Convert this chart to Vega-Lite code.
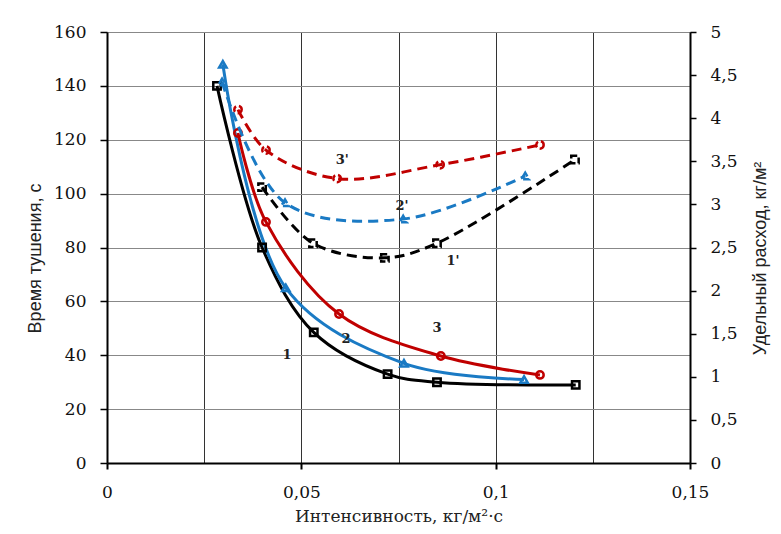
{
  "$schema": "https://vega.github.io/schema/vega-lite/v6.json",
  "autosize": "none",
  "width": 583,
  "height": 431,
  "padding": {"left": 107, "top": 32, "right": 91, "bottom": 71},
  "background": "white",
  "config": {
    "view": {"stroke": null},
    "axis": {"labelFont": "DejaVu Serif", "labelFontSize": 17, "labelColor": "#111", "domainColor": "#000", "tickColor": "#000", "titleColor": "#222", "titleFontWeight": "normal"}
  },
  "datasets": {
    "solid": [
      {"series": "1", "x": 0.0283, "y": 140},
      {"series": "1", "x": 0.0399, "y": 80},
      {"series": "1", "x": 0.0532, "y": 48.5},
      {"series": "1", "x": 0.0722, "y": 33},
      {"series": "1", "x": 0.0849, "y": 30},
      {"series": "1", "x": 0.1206, "y": 29},
      {"series": "2", "x": 0.0298, "y": 148},
      {"series": "2", "x": 0.0460, "y": 65},
      {"series": "2", "x": 0.0764, "y": 37},
      {"series": "2", "x": 0.1073, "y": 31},
      {"series": "3", "x": 0.0337, "y": 122.5},
      {"series": "3", "x": 0.0409, "y": 89.5},
      {"series": "3", "x": 0.0597, "y": 55.3},
      {"series": "3", "x": 0.0859, "y": 39.7},
      {"series": "3", "x": 0.1114, "y": 32.7}
    ],
    "dashed": [
      {"series": "1", "x": 0.0399, "y": 3.2},
      {"series": "1", "x": 0.0530, "y": 2.55},
      {"series": "1", "x": 0.0715, "y": 2.38},
      {"series": "1", "x": 0.0849, "y": 2.55},
      {"series": "1", "x": 0.1204, "y": 3.52},
      {"series": "2", "x": 0.0296, "y": 4.42},
      {"series": "2", "x": 0.0458, "y": 3.02},
      {"series": "2", "x": 0.0762, "y": 2.83},
      {"series": "2", "x": 0.1076, "y": 3.33},
      {"series": "3", "x": 0.0337, "y": 4.1},
      {"series": "3", "x": 0.0409, "y": 3.63},
      {"series": "3", "x": 0.0592, "y": 3.3},
      {"series": "3", "x": 0.0857, "y": 3.46},
      {"series": "3", "x": 0.1114, "y": 3.69}
    ],
    "labels": [
      {"text": "1", "x": 0.0463, "y": 40},
      {"text": "2", "x": 0.0615, "y": 46},
      {"text": "3", "x": 0.0849, "y": 50},
      {"text": "1'", "x": 0.0890, "y": 75},
      {"text": "2'", "x": 0.0759, "y": 95.5},
      {"text": "3'", "x": 0.0605, "y": 112.5}
    ]
  },
  "resolve": {"scale": {"y": "independent"}},
  "layer": [
    {
      "layer": [
        {
          "data": {"name": "solid"},
          "mark": {"type": "line", "interpolate": "catmull-rom", "strokeWidth": 3},
          "encoding": {
            "x": {"field": "x", "type": "quantitative", "scale": {"domain": [0, 0.15], "nice": false},
              "axis": {
                "values": [0, 0.025, 0.05, 0.075, 0.1, 0.125, 0.15],
                "grid": true, "gridColor": "#333", "gridWidth": 1,
                "domainWidth": 2, "tickSize": 6, "tickWidth": 2,
                "tickOpacity": {"condition": {"test": "abs(datum.value*20 - round(datum.value*20)) < 0.001", "value": 1}, "value": 0},
                "labelExpr": "abs(datum.value*20 - round(datum.value*20)) < 0.001 ? replace(format(datum.value, '~g'), '.', ',') : ''",
                "labelFlush": false, "labelOverlap": false, "labelPadding": 15,
                "title": "Интенсивность, кг/м²·с", "titleFont": "DejaVu Serif", "titleFontSize": 17, "titlePadding": 8
              }},
            "y": {"field": "y", "type": "quantitative", "scale": {"domain": [0, 160], "nice": false},
              "axis": {
                "orient": "left", "values": [0, 20, 40, 60, 80, 100, 120, 140, 160],
                "grid": true, "gridColor": "#888", "gridWidth": 1,
                "domainWidth": 2, "tickSize": 7, "tickWidth": 1.5, "labelPadding": 14,
                "title": "Время тушения, с", "titleFont": "Liberation Sans", "titleFontSize": 18, "titlePadding": 9, "titleY": 226
              }},
            "color": {"field": "series", "type": "nominal", "scale": {"domain": ["1", "2", "3"], "range": ["#000000", "#1a7ac4", "#c00000"]}, "legend": null}
          }
        },
        {
          "data": {"name": "solid"},
          "mark": {"type": "point", "filled": false, "strokeWidth": 2.5, "size": 55, "opacity": 1},
          "encoding": {
            "x": {"field": "x", "type": "quantitative"},
            "y": {"field": "y", "type": "quantitative"},
            "color": {"field": "series", "type": "nominal", "legend": null},
            "shape": {"field": "series", "type": "nominal", "scale": {"domain": ["1", "2", "3"], "range": ["square", "triangle-up", "circle"]}, "legend": null}
          }
        },
        {
          "data": {"name": "labels"},
          "mark": {"type": "text", "font": "DejaVu Serif", "fontSize": 13, "fontWeight": "bold", "color": "#222"},
          "encoding": {
            "x": {"field": "x", "type": "quantitative"},
            "y": {"field": "y", "type": "quantitative"},
            "text": {"field": "text"}
          }
        }
      ]
    },
    {
      "data": {"name": "dashed"},
      "layer": [
        {
          "mark": {"type": "line", "interpolate": "catmull-rom", "strokeWidth": 3, "strokeDash": [10, 6]},
          "encoding": {
            "x": {"field": "x", "type": "quantitative"},
            "y": {"field": "y", "type": "quantitative", "scale": {"domain": [0, 5], "nice": false},
              "axis": {
                "orient": "right", "values": [0, 0.5, 1, 1.5, 2, 2.5, 3, 3.5, 4, 4.5, 5],
                "grid": false, "domainWidth": 2, "tickSize": 6, "tickWidth": 1.5, "labelPadding": 14,
                "labelExpr": "replace(format(datum.value, '~g'), '.', ',')",
                "title": "Удельный расход, кг/м²", "titleFont": "Liberation Sans", "titleFontSize": 18, "titleAngle": -90, "titleBaseline": "top", "titlePadding": 14, "titleY": 226
              }},
            "color": {"field": "series", "type": "nominal", "scale": {"domain": ["1", "2", "3"], "range": ["#000000", "#1a7ac4", "#c00000"]}, "legend": null}
          }
        },
        {
          "mark": {"type": "point", "filled": false, "strokeWidth": 2.5, "size": 55, "opacity": 1, "strokeDash": [6, 3]},
          "encoding": {
            "x": {"field": "x", "type": "quantitative"},
            "y": {"field": "y", "type": "quantitative"},
            "color": {"field": "series", "type": "nominal", "legend": null},
            "shape": {"field": "series", "type": "nominal", "scale": {"domain": ["1", "2", "3"], "range": ["square", "triangle-up", "circle"]}, "legend": null}
          }
        }
      ]
    }
  ]
}
